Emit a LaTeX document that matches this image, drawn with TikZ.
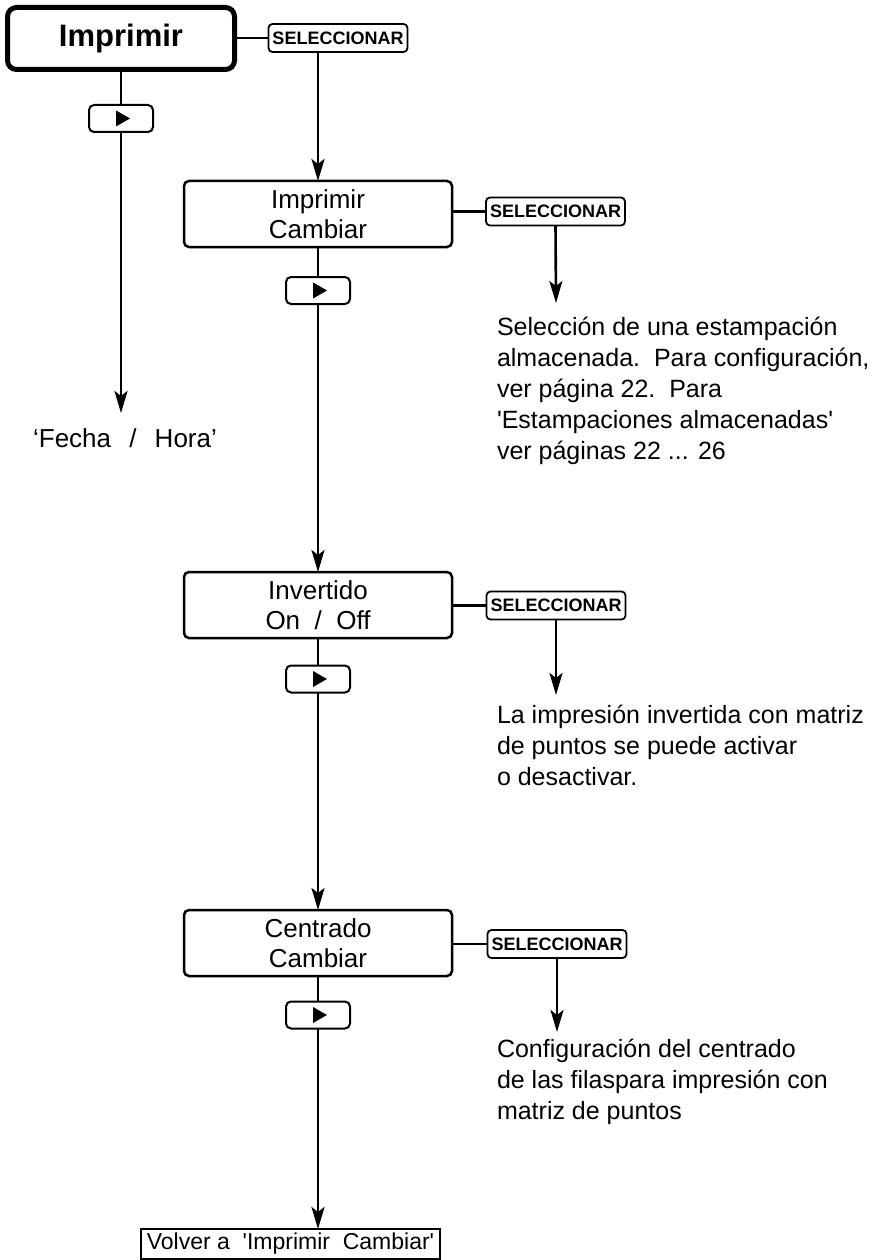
\documentclass[tikz,border=0pt]{standalone}
\usepackage{fontspec}
\setmainfont{Liberation Sans}
\usetikzlibrary{arrows.meta}
\begin{document}
\begin{tikzpicture}[x=1pt,y=-1pt,
  every node/.style={inner sep=0pt, outer sep=0pt},
  mainbox/.style={draw, line width=5pt, rounded corners=9pt, minimum width=227pt, minimum height=62pt, font=\fontsize{31}{36}\selectfont\bfseries},
  menubox/.style={draw, line width=2.5pt, rounded corners=5pt, minimum width=268pt, minimum height=66pt, align=center, font=\fontsize{26}{30}\selectfont},
  selbox/.style={draw, line width=1.8pt, rounded corners=4pt, minimum width=139pt, minimum height=28pt, font=\fontsize{18}{20}\selectfont\bfseries},
  keybox/.style={draw, line width=2pt, rounded corners=5pt, minimum width=64pt, minimum height=27pt,
    path picture={\fill[sharp corners] ([xshift=-5pt,yshift=8pt]path picture bounding box.center) -- ([xshift=-5pt,yshift=-8pt]path picture bounding box.center) -- ([xshift=9pt]path picture bounding box.center) -- cycle;}},
  desc/.style={anchor=base west, align=left, font=\fontsize{25}{31}\selectfont},
  endbox/.style={draw, line width=1.5pt, minimum width=299pt, minimum height=30pt, font=\fontsize{23}{28}\selectfont},
  link/.style={line width=2.6pt},
  arr/.style={line width=2.6pt, -{Stealth[length=22pt,width=13pt,inset=5pt]}},
]
\useasboundingbox (0,0) rectangle (887,1260);

% main menu
\node[mainbox] (imp) at (121,38.5) {Imprimir};
\node[selbox] (s1) at (338,38) {SELECCIONAR};
\node[keybox] (k1) at (121,118.5) {};
\coordinate (fhtip) at (121,413);
\node[font=\fontsize{26}{30}\selectfont] (fh) at (125,438) {`Fecha\hspace{0.7em}/\hspace{0.7em}Hora'};

% Imprimir Cambiar
\node[menubox] (b2) at (318,214) {Imprimir\\Cambiar};
\node[selbox] (s2) at (555.5,211.5) {SELECCIONAR};
\node[keybox] (k2) at (318,290.5) {};
\coordinate (t2) at (556,303);
\node[desc] (d2) at (497,459) {Selección de una estampación\\almacenada.\ \ Para configuración,\\ver página 22.\ \ Para\\\textquotesingle Estampaciones almacenadas\textquotesingle\\ver páginas 22 ... 26};

% Invertido
\node[menubox] (b3) at (318,605) {Invertido\\On\ \ /\ \ Off};
\node[selbox] (s3) at (556,605.5) {SELECCIONAR};
\node[keybox] (k3) at (318,679) {};
\coordinate (t3) at (556,695);
\node[desc] (d3) at (497,785) {La impresión invertida con matriz\\de puntos se puede activar\\o desactivar.};

% Centrado
\node[menubox] (b4) at (318,943) {Centrado\\Cambiar};
\node[selbox] (s4) at (557,944) {SELECCIONAR};
\node[keybox] (k4) at (318,1015) {};
\coordinate (t4) at (557,1032);
\node[desc] (d4) at (497,1119) {Configuración del centrado\\de las filaspara impresión con\\matriz de puntos};

% end
\node[endbox] (fin) at (290.5,1244) {Volver a\ \ \textquotesingle Imprimir\ \ Cambiar\textquotesingle};

% connectors
\draw[link] (imp.east |- s1.west) -- (s1.west);
\draw[arr] (s1.south -| b2.north) -- (b2.north);
\draw[link] (imp.south -| k1.north) -- (k1.north);
\draw[arr] (k1.south) -- (fhtip);

\draw[link] (b2.east |- s2.west) -- (s2.west);
\draw[arr] (s2.south) -- (t2);
\draw[link] (b2.south) -- (k2.north);
\draw[arr] (k2.south) -- (b3.north);

\draw[link] (b3.east |- s3.west) -- (s3.west);
\draw[arr] (s3.south) -- (t3);
\draw[link] (b3.south) -- (k3.north);
\draw[arr] (k3.south) -- (b4.north);

\draw[link] (b4.east |- s4.west) -- (s4.west);
\draw[arr] (s4.south) -- (t4);
\draw[link] (b4.south) -- (k4.north);
\draw[arr] (k4.south) -- (k4.south |- fin.north);
\end{tikzpicture}
\end{document}
